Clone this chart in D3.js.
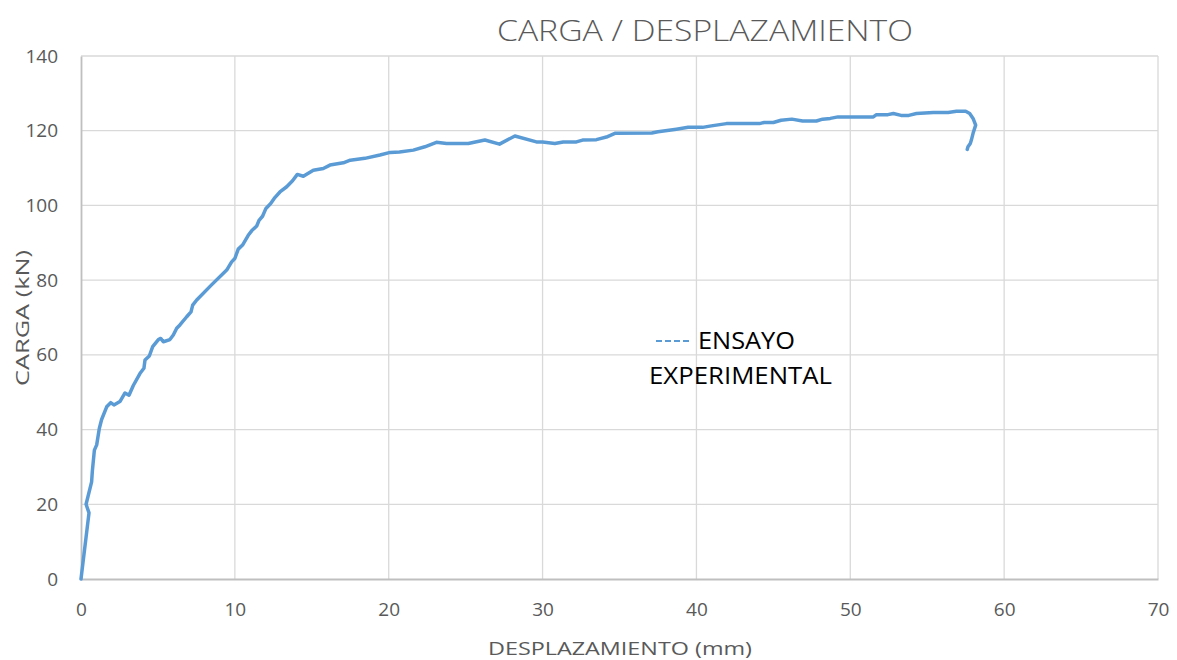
<!DOCTYPE html>
<html><head><meta charset="utf-8">
<script src="https://cdn.jsdelivr.net/npm/d3@7"></script>
<style>body{margin:0;background:#fff}svg{display:block}</style>
</head><body>
<svg id="c" width="1177" height="660"></svg>
<script>
const xTicks = [0,10,20,30,40,50,60,70];
const yTicks = [0,20,40,60,80,100,120,140];
const desplazamiento = [0,0.52,0.33,0.69,0.74,0.87,1.02,1.19,1.34,1.67,1.93,2.14,2.53,2.86,3.12,3.4,3.83,4.09,4.16,4.44,4.66,5.03,5.18,5.35,5.78,6.0,6.22,6.43,6.87,7.15,7.26,7.52,8.5,9.47,9.79,10.0,10.22,10.5,10.87,11.09,11.42,11.57,11.8,12.02,12.33,12.6,12.93,13.37,13.75,14.06,14.45,15.1,15.75,16.18,17.05,17.5,18.45,19.43,20.1,20.7,21.6,22.35,23.1,23.76,25.17,26.25,27.2,28.2,29.6,30.0,30.8,31.34,32.2,32.6,33.5,34.15,34.7,37.1,37.5,38.7,39.46,40.4,40.97,41.95,44.1,44.4,45.0,45.5,46.2,46.9,47.8,48.2,48.7,49.2,51.5,51.7,52.45,52.8,53.3,53.8,54.3,55.4,56.36,56.9,57.5,57.76,57.98,58.15,57.98,57.87,57.8,57.65,57.6];
const carga = [0,17.7,20,26,29,34.5,35.9,40.3,42.7,46.1,47.2,46.6,47.5,49.8,49.2,51.8,55,56.4,58.6,59.7,62.2,64.1,64.4,63.5,64.1,65.3,67.1,68,70.2,71.5,73.3,74.7,78.8,82.7,84.9,85.8,88.3,89.4,92,93.2,94.5,96,97.1,99.2,100.5,102.1,103.6,105,106.6,108.3,107.8,109.4,109.9,110.8,111.4,112.1,112.6,113.5,114.2,114.3,114.8,115.7,116.9,116.6,116.6,117.5,116.4,118.6,117,117,116.6,117,117,117.5,117.6,118.3,119.3,119.4,119.7,120.4,120.9,120.9,121.3,121.9,121.9,122.2,122.2,122.8,123.1,122.6,122.6,123.1,123.3,123.7,123.7,124.3,124.3,124.6,124.1,124.1,124.6,124.9,124.9,125.2,125.2,124.6,123.3,121.5,119.3,117.5,116.6,115.7,115];
const title = "CARGA / DESPLAZAMIENTO";
const xTitle = "DESPLAZAMIENTO (mm)";
const yTitle = "CARGA (kN)";
const legendLines = ["ENSAYO","EXPERIMENTAL"];

const svg = d3.select("#c");
const L=81, R=1158, T=56, B=579;
const x = d3.scaleLinear().domain([0,70]).range([L,R]);
const y = d3.scaleLinear().domain([0,140]).range([B,T]);
const font = "Open Sans, sans-serif";

// gridlines
svg.append("g").selectAll("line.v").data(xTicks.slice(1)).join("line")
  .attr("x1",d=>x(d)).attr("x2",d=>x(d)).attr("y1",T).attr("y2",B)
  .attr("stroke","#d9d9d9").attr("stroke-width",1.3);
svg.append("g").selectAll("line.h").data(yTicks.slice(1)).join("line")
  .attr("x1",L).attr("x2",R).attr("y1",d=>y(d)).attr("y2",d=>y(d))
  .attr("stroke","#d9d9d9").attr("stroke-width",1.3);

// axes
const xAxis = svg.append("g").attr("transform",`translate(0,${B})`)
  .call(d3.axisBottom(x).tickValues(xTicks).tickSize(0).tickPadding(24));
const yAxis = svg.append("g").attr("transform",`translate(${L},0)`)
  .call(d3.axisLeft(y).tickValues(yTicks).tickSize(0).tickPadding(23));
[xAxis,yAxis].forEach(a=>{
  a.select(".domain").attr("stroke","#bfbfbf").attr("stroke-width",1.8);
  a.selectAll(".tick text").attr("fill","#595959").style("font-family",font).style("font-size","19px");
});

// line
const pts = desplazamiento.map((d,i)=>[d,carga[i]]);
svg.append("path").datum(pts)
  .attr("d", d3.line().x(d=>x(d[0])).y(d=>y(d[1])))
  .attr("fill","none").attr("stroke","#5b9bd5").attr("stroke-width",3.5)
  .attr("stroke-linejoin","round").attr("stroke-linecap","round");

// title
svg.append("text").attr("x",705).attr("y",41).attr("text-anchor","middle")
  .attr("fill","#595959").style("font-family",font).style("font-size","29px").style("font-weight",300)
  .attr("textLength",416).attr("lengthAdjust","spacingAndGlyphs").text(title);

// axis titles
svg.append("text").attr("x",620).attr("y",655).attr("text-anchor","middle")
  .attr("fill","#595959").style("font-family",font).style("font-size","19px")
  .attr("textLength",264).attr("lengthAdjust","spacingAndGlyphs").text(xTitle);
svg.append("text").attr("transform","translate(29,318) rotate(-90)").attr("text-anchor","middle")
  .attr("fill","#595959").style("font-family",font).style("font-size","19px")
  .attr("textLength",136).attr("lengthAdjust","spacingAndGlyphs").text(yTitle);

// legend
svg.append("line").attr("x1",656).attr("x2",690).attr("y1",341).attr("y2",341)
  .attr("stroke","#5b9bd5").attr("stroke-width",1.8).attr("stroke-dasharray","6,3");
svg.append("text").attr("x",698).attr("y",349).attr("fill","#000")
  .style("font-family",font).style("font-size","23px")
  .attr("textLength",97).attr("lengthAdjust","spacingAndGlyphs").text(legendLines[0]);
svg.append("text").attr("x",649).attr("y",384).attr("fill","#000")
  .style("font-family",font).style("font-size","23px")
  .attr("textLength",183).attr("lengthAdjust","spacingAndGlyphs").text(legendLines[1]);
</script>
</body></html>
